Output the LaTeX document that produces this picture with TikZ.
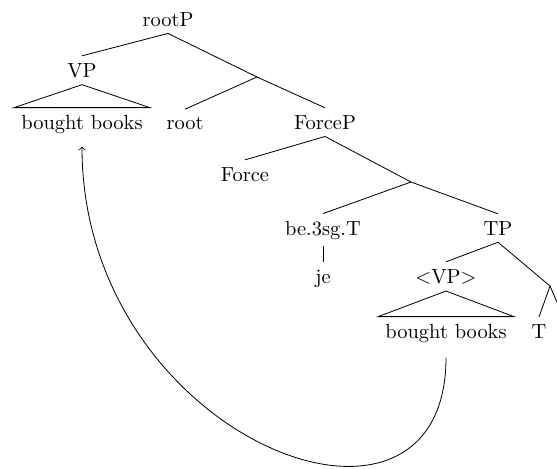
\documentclass[tikz,border=0pt]{standalone}
\begin{document}
\begin{tikzpicture}[x=0.489pt,y=-0.489pt,
  lbl/.style={anchor=base,inner sep=3.33pt},
  edge/.style={line width=0.4pt}]
\useasboundingbox (0,0) rectangle (557,468);
\clip (0,0) rectangle (557,468);
% labels
\node[lbl] (rootP) at (168,26) {rootP};
\node[lbl] (VP) at (82,77) {VP};
\node[lbl] (bb1) at (82,129) {bought books};
\node[lbl] (root) at (185,129) {root};
\node[lbl] (ForceP) at (325,129) {ForceP};
\node[lbl] (Force) at (245,181) {Force};
\node[lbl] (be) at (323,235) {be.3sg.T};
\node[lbl] (je) at (323,283) {je};
\node[lbl] (TP) at (498,235) {TP};
\node[lbl] (VPt) at (446,283) {$<$VP$>$};
\node[lbl] (bb2) at (446,338) {bought books};
\node[lbl] (T) at (539,338) {T};
% junctions
\coordinate (j1) at (257,77);
\coordinate (j2) at (411,182);
\coordinate (j3) at (550,286);
\coordinate (off) at (563,316);
% branches
\draw[edge] (VP.north) -- (rootP.south) -- (j1);
\draw[edge] (root.north) -- (j1) -- (ForceP.north);
\draw[edge] (Force.north) -- (ForceP.south) -- (j2);
\draw[edge] (be.north) -- (j2) -- (TP.north);
\draw[edge] (be.south) -- (je.north);
\draw[edge] (VPt.north) -- (TP.south) -- (j3);
\draw[edge] (T.north) -- (j3) -- (off);
% triangles
\draw[edge] (bb1.north west) -- (VP.south) -- (bb1.north east) -- cycle;
\draw[edge] (bb2.north west) -- (VPt.south) -- (bb2.north east) -- cycle;
% movement arrow
\draw[edge,->,shorten <=4pt,shorten >=3pt] (bb2.south) .. controls +(0,230) and +(0,298) .. (bb1.south);
\end{tikzpicture}
\end{document}
